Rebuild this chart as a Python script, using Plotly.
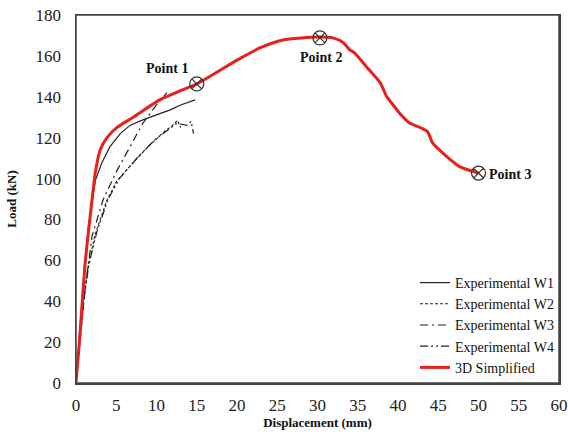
import plotly.graph_objects as go

# 3D Simplified (red)
sim_x = [0, 0.5, 1.1, 1.6, 2.0, 2.4, 3.0, 3.85, 5.1, 7.1, 10.4, 13.0, 15.0, 17.9, 20.5, 22.9,
         25.7, 28.0, 30.3, 31.9, 33.2, 34.0, 34.6, 36.1, 37.8, 38.6, 39.0, 40.2, 41.5, 43.0, 43.7,
         44.3, 46.1, 47.7, 50.0]
sim_y = [0, 24, 57, 76, 90, 103, 114, 120, 125, 130, 138.5, 143, 146.3, 153, 159, 164,
         167.8, 168.8, 169.2, 168.8, 166.5, 163, 161.5, 154.6, 146.8, 140, 138, 132, 127, 124.5, 122.8,
         117.4, 110.6, 105.7, 102.7]

# Experimental W1 (solid)
w1_x = [0, 0.5, 1.0, 1.5, 2.4, 3.2, 4.2, 5.5, 6.7, 8.3, 10.0, 11.7, 13.0, 14.8]
w1_y = [0, 30, 55, 75, 99, 107.6, 115.5, 122, 126, 128.7, 131, 133.6, 136, 138.5]

# Experimental W2 (dotted)
w2_x = [0, 0.5, 0.9, 1.5, 2.4, 3.8, 5.1, 7.6, 9.6, 11.0, 12.0, 12.6, 13.0]
w2_y = [0, 22, 40, 57, 73, 89, 99, 110, 118, 123, 126, 128.5, 125]

# Experimental W3 (long dash dot)
w3_x = [0, 0.5, 1.1, 2.0, 3.4, 5.1, 6.7, 8.3, 10.0, 11.3]
w3_y = [0, 20, 45, 72, 90, 104, 115.5, 127, 136, 142]

# Experimental W4 (long dash dot dot)
w4_x = [0, 0.5, 1.0, 1.6, 2.6, 4.0, 5.4, 7.8, 9.8, 11.5, 12.5, 13.8, 14.3, 14.6]
w4_y = [0, 22, 41, 58, 74, 90, 100, 111, 119, 124, 127, 126, 128, 122]

# Marked points
pt_x = [15.0, 30.3, 50.0]
pt_y = [146.3, 168.8, 102.7]
pt_labels = ["Point 1", "Point 2", "Point 3"]
lbl_x = [11.3, 30.4, 53.9]
lbl_y = [153.6, 159.0, 102.2]

x_ticks = list(range(0, 61, 5))
y_ticks = list(range(0, 181, 20))

FONT = "Liberation Serif"

fig = go.Figure()
fig.add_trace(go.Scatter(x=w1_x, y=w1_y, mode="lines", name="Experimental W1",
                         line=dict(color="#222222", width=1.2)))
fig.add_trace(go.Scatter(x=w2_x, y=w2_y, mode="lines", name="Experimental W2",
                         line=dict(color="#222222", width=1.1, dash="3px,2px")))
fig.add_trace(go.Scatter(x=w3_x, y=w3_y, mode="lines", name="Experimental W3",
                         line=dict(color="#222222", width=1.2, dash="8px,4px,2px,4px")))
fig.add_trace(go.Scatter(x=w4_x, y=w4_y, mode="lines", name="Experimental W4",
                         line=dict(color="#222222", width=1.2, dash="8px,3px,2px,3px,2px,3px")))
fig.add_trace(go.Scatter(x=sim_x, y=sim_y, mode="lines", name="3D Simplified",
                         line=dict(color="#e8201c", width=3, shape="spline", smoothing=0.6)))
fig.add_trace(go.Scatter(x=pt_x, y=pt_y, mode="markers", showlegend=False,
                         marker=dict(symbol="circle-x-open", size=14,
                                     color="#333333", line=dict(width=1.2, color="#333333"))))

for tx, ty, t in zip(lbl_x, lbl_y, pt_labels):
    fig.add_annotation(x=tx, y=ty, text="<b>" + t + "</b>", showarrow=False,
                       font=dict(family=FONT, size=14, color="#111111"))

# plot frame
fig.add_shape(type="rect", xref="paper", yref="paper", x0=0, y0=0, x1=1, y1=1,
              line=dict(color="#444444", width=1.5), fillcolor="rgba(0,0,0,0)", layer="above")

axis_common = dict(showline=True, linecolor="#444444", linewidth=1.5, mirror=True,
                   showgrid=False, zeroline=False, ticks="outside", automargin=False,
                   tickcolor="rgba(0,0,0,0)", ticklabeloverflow="allow",
                   tickfont=dict(family=FONT, size=17, color="#222222"))

fig.update_xaxes(range=[0, 60], tickvals=x_ticks, ticklen=6,
                 title=dict(text="<b>Displacement (mm)</b>", standoff=4,
                            font=dict(family=FONT, size=13, color="#111111")),
                 **axis_common)
fig.update_yaxes(range=[0, 180], tickvals=y_ticks, ticklen=10,
                 title=dict(text="<b>Load (kN)</b>", standoff=16,
                            font=dict(family=FONT, size=13, color="#111111")),
                 **axis_common)

fig.update_layout(width=568, height=444,
                  margin=dict(l=76, r=9, t=15, b=61),
                  paper_bgcolor="white", plot_bgcolor="white",
                  legend=dict(x=1, y=0, xanchor="right", yanchor="bottom",
                              bgcolor="rgba(0,0,0,0)", tracegroupgap=0,
                              font=dict(family=FONT, size=14, color="#111111")),
                  font=dict(family=FONT))

fig.write_html("out.html", config={"staticPlot": True},
               post_script="document.body.style.margin='0';document.body.style.overflow='hidden';")
